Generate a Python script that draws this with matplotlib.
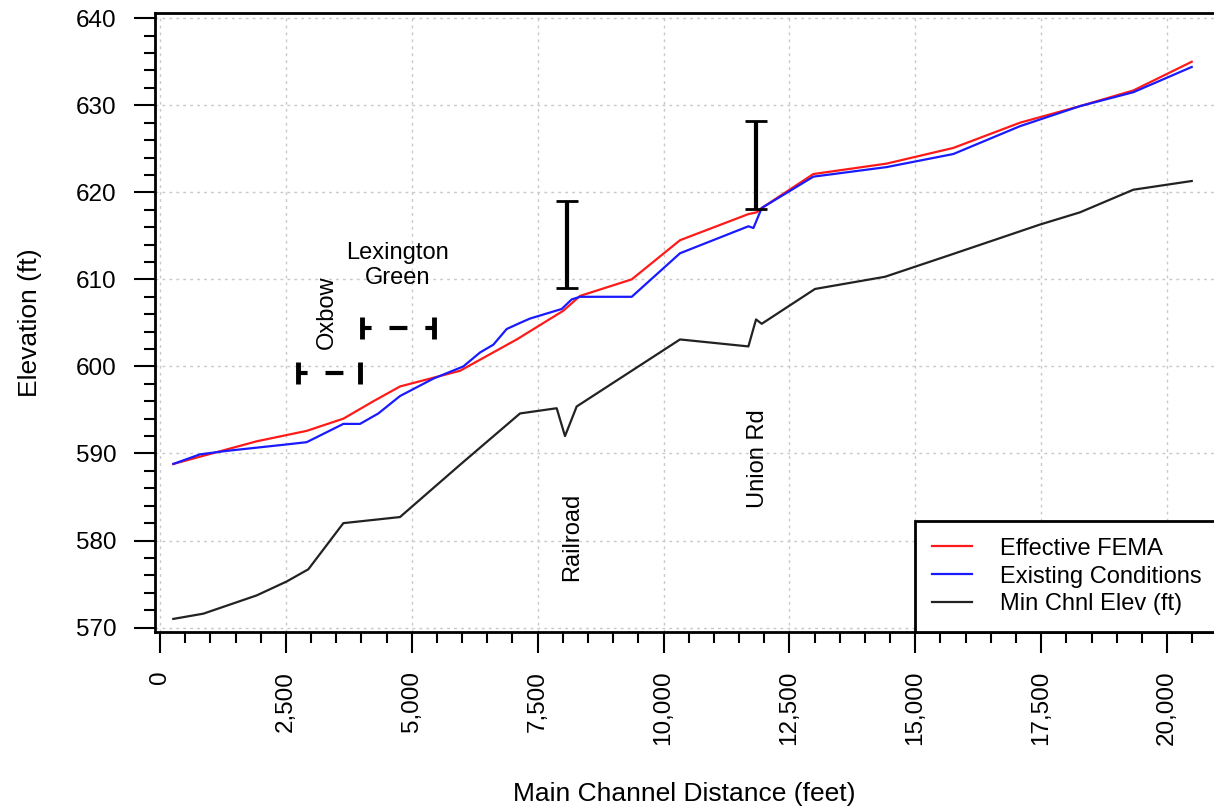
import matplotlib
matplotlib.use("Agg")
import matplotlib.pyplot as plt
from matplotlib.ticker import MultipleLocator, FuncFormatter

plt.rcParams['font.family'] = ['Liberation Sans', 'DejaVu Sans']

# Effective FEMA water surface
fema_x = [264, 1920, 2913, 3641, 4237, 4766, 5362, 5958, 7084, 8010, 8341, 9368,
          10327, 11685, 11850, 11950, 12975, 14431, 15755, 17080, 18270, 19330, 20490]
fema_y = [588.8, 591.4, 592.6, 594.0, 596.0, 597.7, 598.6, 599.5, 603.1, 606.4, 608.1, 610.0,
          614.5, 617.5, 617.7, 618.2, 622.1, 623.3, 625.1, 628.0, 629.9, 631.7, 635.0]

# Existing conditions water surface
exist_x = [264, 794, 1324, 2449, 2913, 3641, 3972, 4336, 4766, 5428, 6024, 6355, 6620,
           6885, 7150, 7348, 7977, 8176, 8341, 9368, 10327, 11685, 11785, 11950, 12975,
           14431, 15755, 17080, 18270, 19330, 20490]
exist_y = [588.8, 589.9, 590.3, 591.0, 591.3, 593.4, 593.4, 594.6, 596.6, 598.6, 600.0, 601.6, 602.5,
           604.3, 605.0, 605.5, 606.6, 607.7, 608.0, 608.0, 613.0, 616.1, 615.9, 618.2, 621.8,
           622.9, 624.4, 627.6, 629.9, 631.5, 634.4]

# Min channel elevation
chnl_x = [264, 860, 1920, 2516, 2946, 3641, 4766, 5958, 7150, 7878, 8043, 8275, 10327,
          11685, 11837, 11950, 13008, 14398, 15689, 17477, 18270, 19330, 20490]
chnl_y = [571.0, 571.6, 573.7, 575.3, 576.7, 582.0, 582.7, 588.7, 594.6, 595.2, 592.0, 595.4, 603.1,
          602.3, 605.4, 604.9, 608.9, 610.3, 612.8, 616.3, 617.7, 620.3, 621.3]

# vertical range bars (bridges)
vbar_x = [8077, 11830]
vbar_lo = [609.0, 618.1]
vbar_hi = [619.0, 628.2]

# horizontal dashed range bars (Oxbow / Lexington Green)
hbar_y = [599.3, 604.4]
hbar_lo = [2734, 4006]
hbar_hi = [3972, 5442]

labels = ["Effective FEMA", "Existing Conditions", "Min Chnl Elev (ft)"]

fig = plt.figure(figsize=(12.14, 8.07), dpi=100)
ax = fig.add_axes([0.1277, 0.2169, 0.8723, 0.767])

ax.plot(fema_x, fema_y, color='#ff1a1a', lw=1.6, label=labels[0], zorder=4)
ax.plot(exist_x, exist_y, color='#1a1aff', lw=1.6, label=labels[1], zorder=4)
ax.plot(chnl_x, chnl_y, color='#222222', lw=1.6, label=labels[2], zorder=4)

# bridge bars
for x, lo, hi in zip(vbar_x, vbar_lo, vbar_hi):
    ax.errorbar([x], [(lo + hi) / 2], yerr=[(hi - lo) / 2], fmt='none', ecolor='black',
                elinewidth=3, capsize=8, capthick=2, zorder=5)

# dashed bars
for y, lo, hi in zip(hbar_y, hbar_lo, hbar_hi):
    eb = ax.errorbar([(lo + hi) / 2], [y], xerr=[(hi - lo) / 2], fmt='none', ecolor='black',
                     elinewidth=3, capsize=8, capthick=3.5, zorder=5)
    eb[2][0].set_linestyle((2, (4.3, 4.3)))

fs = 17
ax.text(3312, 606.2, "Oxbow", rotation=90, ha='center', va='center', fontsize=fs)
ax.text(4717, 611.6, "Lexington\nGreen", ha='center', va='center', fontsize=fs, linespacing=1.2)
ax.text(8180, 580.4, "Railroad", rotation=90, ha='center', va='center', fontsize=fs)
ax.text(11882, 589.4, "Union Rd", rotation=90, ha='center', va='center', fontsize=fs)

ax.set_xlim(-99, 20932)
ax.set_ylim(569.5, 640.6)

ax.xaxis.set_major_locator(MultipleLocator(2500))
ax.xaxis.set_minor_locator(MultipleLocator(500))
ax.yaxis.set_major_locator(MultipleLocator(10))
ax.yaxis.set_minor_locator(MultipleLocator(2))
ax.xaxis.set_major_formatter(FuncFormatter(lambda v, p: f"{int(v):,}"))
ax.yaxis.set_major_formatter(FuncFormatter(lambda v, p: f"{int(v)}"))

ax.tick_params(which='major', direction='out', length=15, width=1.5, labelsize=17.5, pad=13)
ax.tick_params(which='minor', direction='out', length=8, width=1.5)
for lab in ax.get_xticklabels():
    lab.set_rotation(90)

ax.grid(True, which='major', color='#c8c8c8', linestyle=(0, (2, 3)), linewidth=1)
ax.set_axisbelow(True)

for s in ['left', 'bottom', 'top']:
    ax.spines[s].set_linewidth(2)
ax.spines['right'].set_visible(False)

ax.set_xlabel("Main Channel Distance (feet)", fontsize=19, labelpad=26)
ax.set_ylabel("Elevation (ft)", fontsize=19, labelpad=24)

leg = ax.legend(loc='lower left', bbox_to_anchor=(0.7177, 0.0), borderaxespad=0,
                fancybox=False, framealpha=1, edgecolor='black', fontsize=fs,
                handlelength=1.7, handletextpad=1.2, labelspacing=0.25, borderpad=0.7)
leg.get_frame().set_linewidth(2)

fig.savefig("out.png", dpi=100)
